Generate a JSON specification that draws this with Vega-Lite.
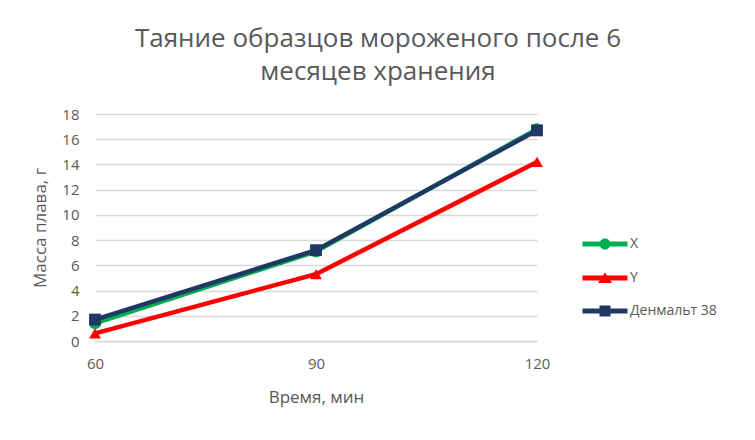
{
  "$schema": "https://vega.github.io/schema/vega-lite/v6.json",
  "autosize": {"type": "none"},
  "width": 442,
  "height": 227,
  "padding": {"left": 95, "top": 114, "right": 218, "bottom": 99},
  "background": "white",
  "config": {
    "view": {"stroke": null},
    "font": "Open Sans",
    "axis": {"labelColor": "#595959", "titleColor": "#595959", "labelFontSize": 15, "titleFontSize": 17, "titleFontWeight": "normal", "labelFont": "Open Sans", "titleFont": "Open Sans"},
    "legend": {"title": null, "orient": "none", "legendX": 500, "symbolSize": 400, "symbolOpacity": 1, "symbolStrokeWidth": 0, "labelFontSize": 14, "labelColor": "#595959", "labelFont": "Open Sans", "padding": 0, "labelOffset": 15}
  },
  "title": {
    "text": ["Таяние образцов мороженого после  6", "месяцев хранения"],
    "fontSize": 26,
    "fontWeight": "normal",
    "color": "#595959",
    "font": "Open Sans",
    "anchor": "middle",
    "dx": 62,
    "offset": 22,
    "lineHeight": 33
  },
  "data": {
    "values": [
      {"series": "X", "time": "60", "mass": 1.4},
      {"series": "X", "time": "90", "mass": 7.1},
      {"series": "X", "time": "120", "mass": 16.8},
      {"series": "Y", "time": "60", "mass": 0.6},
      {"series": "Y", "time": "90", "mass": 5.3},
      {"series": "Y", "time": "120", "mass": 14.2},
      {"series": "Денмальт 38", "time": "60", "mass": 1.7},
      {"series": "Денмальт 38", "time": "90", "mass": 7.2},
      {"series": "Денмальт 38", "time": "120", "mass": 16.7}
    ]
  },
  "encoding": {
    "x": {
      "field": "time", "type": "ordinal", "sort": ["60", "90", "120"],
      "scale": {"type": "point", "padding": 0},
      "axis": {"title": "Время, мин", "labelAngle": 0, "ticks": false, "domainColor": "#d9d9d9", "domainWidth": 1.3, "labelPadding": 15, "titlePadding": 18}
    },
    "y": {
      "field": "mass", "type": "quantitative",
      "scale": {"domain": [0, 18]},
      "axis": {"title": "Масса плава, г", "values": [0, 2, 4, 6, 8, 10, 12, 14, 16, 18], "domain": false, "ticks": false, "gridColor": "#d9d9d9", "gridWidth": 1.3, "labelPadding": 16, "titlePadding": 12}
    }
  },
  "resolve": {"scale": {"shape": "independent"}, "legend": {"shape": "independent"}},
  "layer": [
    {
      "mark": {"type": "line", "strokeWidth": 4.5},
      "encoding": {
        "color": {
          "field": "series", "type": "nominal", "sort": ["X", "Y", "Денмальт 38"],
          "scale": {"domain": ["X", "Y", "Денмальт 38"], "range": ["#00b050", "#ff0000", "#1f3864"]},
          "legend": null
        }
      }
    },
    {
      "mark": {"type": "point", "filled": true, "size": 140, "opacity": 1},
      "encoding": {
        "color": {
          "field": "series", "type": "nominal", "sort": ["X", "Y", "Денмальт 38"],
          "scale": {"domain": ["X", "Y", "Денмальт 38"], "range": ["#00b050", "#ff0000", "#1f3864"]},
          "legend": null
        },
        "shape": {
          "field": "series", "type": "nominal", "sort": ["X", "Y", "Денмальт 38"],
          "scale": {"domain": ["X", "Y", "Денмальт 38"], "range": ["circle", "triangle-up", "square"]},
          "legend": null
        }
      }
    },
    {
      "transform": [{"filter": "datum.series === 'X'"}],
      "mark": {"type": "point", "filled": true, "size": 400, "opacity": 0, "color": "#00b050"},
      "encoding": {
        "shape": {
          "field": "series", "type": "nominal",
          "scale": {"domain": ["X"], "range": ["M-2.25,-0.24L2.25,-0.24L2.25,0.24L-2.25,0.24Z M0.55,0A0.55,0.55 0 1 1 -0.55,0A0.55,0.55 0 1 1 0.55,0Z"]},
          "legend": {"legendY": 120}
        }
      }
    },
    {
      "transform": [{"filter": "datum.series === 'Y'"}],
      "mark": {"type": "point", "filled": true, "size": 400, "opacity": 0, "color": "#ff0000"},
      "encoding": {
        "shape": {
          "field": "series", "type": "nominal",
          "scale": {"domain": ["Y"], "range": ["M-2.25,-0.24L2.25,-0.24L2.25,0.24L-2.25,0.24Z M0,-0.55L0.7,0.5L-0.7,0.5Z"]},
          "legend": {"legendY": 154}
        }
      }
    },
    {
      "transform": [{"filter": "datum.series === 'Денмальт 38'"}],
      "mark": {"type": "point", "filled": true, "size": 400, "opacity": 0, "color": "#1f3864"},
      "encoding": {
        "shape": {
          "field": "series", "type": "nominal",
          "scale": {"domain": ["Денмальт 38"], "range": ["M-2.25,-0.24L2.25,-0.24L2.25,0.24L-2.25,0.24Z M-0.55,-0.55L0.55,-0.55L0.55,0.55L-0.55,0.55Z"]},
          "legend": {"legendY": 187}
        }
      }
    }
  ]
}
